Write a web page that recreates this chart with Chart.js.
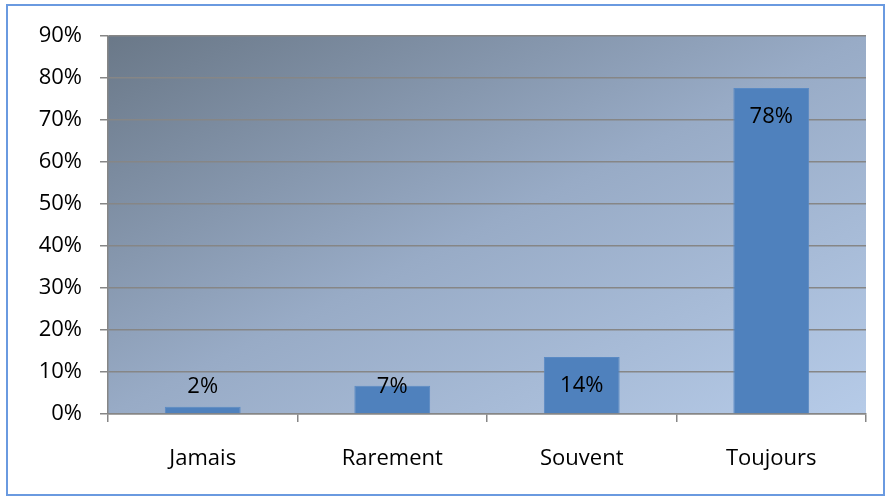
<!DOCTYPE html>
<html>
<head>
<meta charset="utf-8">
<script src="https://cdn.jsdelivr.net/npm/chart.js@4"></script>
<style>
  html, body { margin: 0; padding: 0; background: #fff; }
  #wrap { width: 885px; height: 497px; position: relative; }
</style>
</head>
<body>
<div id="wrap"><canvas id="chart"></canvas></div>
<script>
// fréquence des réponses (en %)
const categories = ['Jamais', 'Rarement', 'Souvent', 'Toujours'];
const values = [1.7, 6.7, 13.6, 77.6];
const yTicks = [0, 10, 20, 30, 40, 50, 60, 70, 80, 90];

const FONT = '"Open Sans", sans-serif';

// fond dégradé (diagonale) + cadre bleu
const backdrop = {
    id: 'backdrop',
    beforeDraw(chart) {
        const { ctx, chartArea: a } = chart;
        const w = a.right - a.left, h = a.bottom - a.top;
        const t = 2 * w * h / (w * w + h * h);
        ctx.save();
        ctx.fillStyle = '#fff';
        ctx.fillRect(0, 0, chart.width, chart.height);
        const g = ctx.createLinearGradient(a.left, a.top, a.left + h * t, a.top + w * t);
        g.addColorStop(0, '#6a7888');
        g.addColorStop(0.5, '#98abc6');
        g.addColorStop(1, '#b6cbe8');
        ctx.fillStyle = g;
        ctx.fillRect(a.left, a.top, w, h);
        ctx.strokeStyle = '#6a9ae0';
        ctx.lineWidth = 2;
        ctx.strokeRect(7, 5, chart.width - 8, chart.height - 7);
        ctx.restore();
    }
};

// étiquettes de valeurs
const valueLabels = {
    id: 'valueLabels',
    afterDatasetsDraw(chart) {
        const { ctx } = chart;
        const meta = chart.getDatasetMeta(0);
        const yScale = chart.scales.y;
        ctx.save();
        ctx.font = '22px ' + FONT;
        ctx.fillStyle = '#000';
        ctx.textAlign = 'center';
        ctx.textBaseline = 'middle';
        meta.data.forEach((bar, i) => {
            const y = Math.min(bar.y + 29, yScale.bottom - 27);
            ctx.fillText(Math.round(values[i]) + '%', bar.x, y);
        });
        ctx.restore();
    }
};

new Chart(document.getElementById('chart'), {
    type: 'bar',
    data: {
        labels: categories,
        datasets: [{
            data: values,
            backgroundColor: '#4f81bd',
            borderColor: '#5a8ac4',
            borderWidth: 1,
            barPercentage: 0.4,
            categoryPercentage: 1
        }]
    },
    options: {
        responsive: true,
        maintainAspectRatio: false,
        animation: false,
        layout: { padding: { left: 0, top: 36, right: 19, bottom: 0 } },
        plugins: {
            legend: { display: false },
            tooltip: { enabled: false }
        },
        scales: {
            x: {
                afterFit(scale) { scale.height = 83; },
                grid: {
                    offset: true,
                    drawOnChartArea: false,
                    drawTicks: true,
                    tickLength: 8,
                    color: '#868686',
                    lineWidth: 1.5
                },
                border: { color: '#868686', width: 1.5 },
                ticks: {
                    font: { family: FONT, size: 22 },
                    color: '#000',
                    padding: 24
                }
            },
            y: {
                min: 0,
                max: 90,
                afterFit(scale) { scale.width = 108; },
                afterBuildTicks(scale) { scale.ticks = yTicks.map(v => ({ value: v })); },
                grid: {
                    color: '#868686',
                    lineWidth: 1.5,
                    tickLength: 8
                },
                border: { color: '#868686', width: 1.5 },
                ticks: {
                    font: { family: FONT, size: 22 },
                    color: '#000',
                    padding: 18,
                    callback: v => v + '%'
                }
            }
        }
    },
    plugins: [backdrop, valueLabels]
});
</script>
</body>
</html>
